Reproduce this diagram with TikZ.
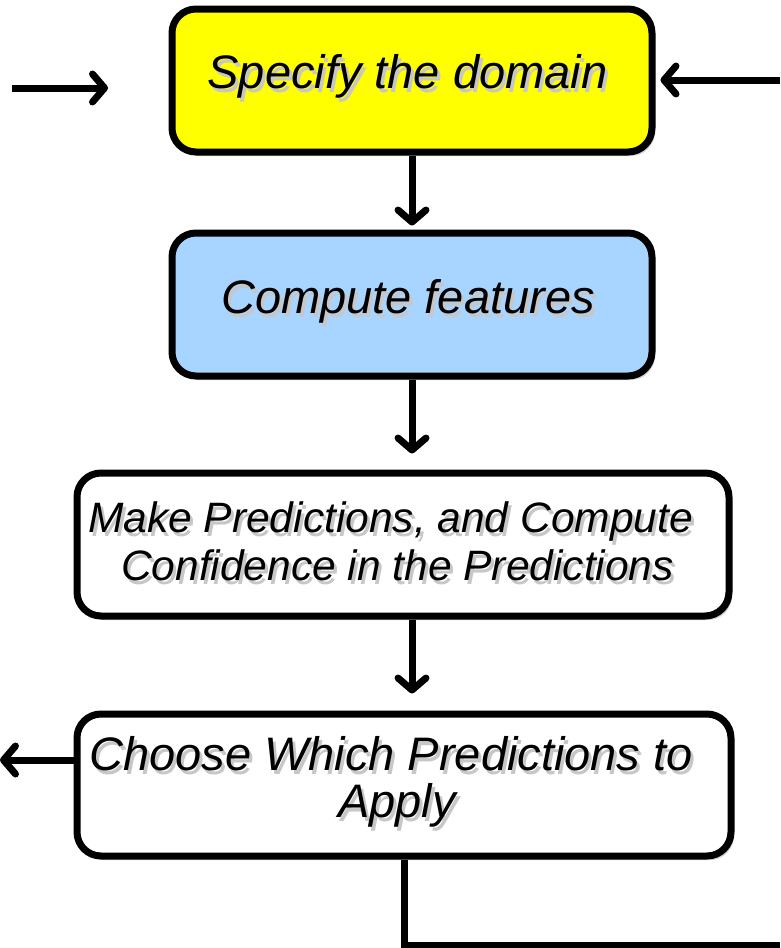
\documentclass[tikz,border=0pt]{standalone}
\usepackage{fontspec}
\setmainfont{Liberation Sans}
\usetikzlibrary{arrows.meta,shadows}

\definecolor{boxyellow}{RGB}{255,255,0}
\definecolor{boxblue}{RGB}{168,213,255}

% text with a soft grey shadow set behind it
\newcommand\shadowed[1]{%
  \makebox[0pt][l]{\kern3pt\raisebox{-4pt}{\color{black!22}#1}}%
  #1}

\begin{document}
\begin{tikzpicture}[x=1pt,y=-1pt,
  box/.style={draw=black, line width=7pt, rounded corners=24pt, inner sep=0pt,
    drop shadow={shadow xshift=3pt, shadow yshift=-4pt, fill=black, opacity=0.18}},
  flow/.style={line width=7pt,
    -{Straight Barb[length=12pt,width=28pt,line width=0pt 1,round]}},
  plain/.style={line width=7pt},
  big/.style={font=\itshape\fontsize{47}{50}\selectfont, inner sep=0pt, anchor=base},
  small/.style={font=\itshape\fontsize{42.5}{48}\selectfont, inner sep=0pt, anchor=base},
]
\useasboundingbox (0,0) rectangle (780,948);

% process boxes
\node[box, fill=boxyellow, minimum width=480pt, minimum height=143pt] (b1) at (412,80.5) {};
\node[box, fill=boxblue,   minimum width=480pt, minimum height=143pt] (b2) at (412,304.5) {};
\node[box, fill=white,     minimum width=652pt, minimum height=143pt] (b3) at (403,544.5) {};
\node[box, fill=white,     minimum width=654pt, minimum height=142pt] (b4) at (404,785) {};

% labels
\node[big]   (t1)  at (407.5,88)  {\shadowed{Specify the domain}};
\node[big]   (t2)  at (408,313)   {\shadowed{Compute features}};
\node[small] (t3a) at (390.5,532) {\shadowed{Make Predictions, and Compute}};
\node[small] (t3b) at (397.5,580) {\shadowed{Confidence in the Predictions}};
\node[big]   (t4a) at (391,770)   {\shadowed{Choose Which Predictions to}};
\node[big]   (t4b) at (397,817)   {\shadowed{Apply}};

% free ends of the outer connectors
\coordinate (inA) at (12,88);
\coordinate (inB) at (108,88);
\coordinate (fb) at (780,80);
\coordinate (out) at (0,760);
\coordinate (back) at (780,945);

% connectors
\draw[flow] (inA) -- (inB);
\draw[flow, shorten >=5pt] (fb) -- (fb -| b1.east);
\draw[flow, shorten >=4pt] (b1.south) -- (b2.north);
\draw[flow, shorten >=16pt] (b2.south) -- (b2.south |- b3.north);
\draw[flow, shorten >=17pt] (b2.south |- b3.south) -- (b2.south |- b4.north);
\draw[flow] (b4.west |- out) -- (out);
\draw[plain] (b4.south) |- (back);
\end{tikzpicture}
\end{document}
